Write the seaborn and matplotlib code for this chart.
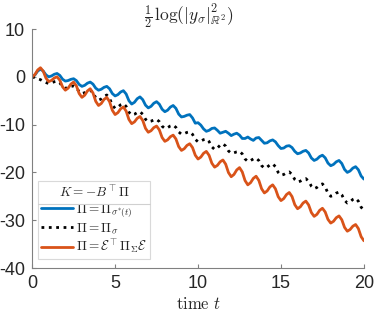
import numpy as np
import matplotlib
matplotlib.use('Agg')
import matplotlib.pyplot as plt
from matplotlib.lines import Line2D
import seaborn as sns

# ============================================================================
# DATA (read off the reference, t sampled every 1/6)
# ============================================================================

t = np.linspace(0, 20, 121)

pi_sigma_star = [
    0.0, 0.4, 1.2, 1.6, 1.2, 0.4,
    0.0, 0.18, 0.53, 0.7, 0.3, -0.5,
    -0.9, -0.78, -0.53, -0.4, -0.8, -1.6,
    -2.0, -1.78, -1.33, -1.1, -1.53, -2.38,
    -2.8, -2.6, -2.2, -2.0, -2.5, -3.5,
    -4.0, -3.73, -3.18, -2.9, -3.6, -5.0,
    -5.7, -5.33, -4.58, -4.2, -4.78, -5.93,
    -6.5, -6.18, -5.53, -5.2, -5.73, -6.78,
    -7.3, -6.98, -6.33, -6.0, -6.6, -7.8,
    -8.4, -8.28, -8.03, -7.9, -8.6, -9.7,
    -9.6, -10.1, -10.9, -11.4, -11.2, -10.8,
    -10.7, -11.2, -11.8, -11.6, -11.4, -11.8,
    -12.3, -12.0, -11.8, -12.2, -12.9, -12.9,
    -12.6, -13.0, -13.3, -12.8, -12.7, -13.3,
    -13.9, -13.8, -13.4, -13.2, -13.6, -14.4,
    -15.0, -14.9, -14.5, -14.4, -14.8, -15.6,
    -16.1, -15.93, -15.58, -15.4, -15.93, -16.98,
    -17.5, -17.23, -16.68, -16.4, -16.95, -18.05,
    -18.6, -18.33, -17.78, -17.5, -18.13, -19.38,
    -20.0, -19.7, -19.1, -18.8, -19.45, -20.75,
    -21.4,
]

pi_sigma = [
    0.0, -0.2, -0.4, -0.6, -0.95, -1.2,
    -1.4, -1.28, -1.03, -0.9, -1.28, -2.03,
    -2.4, -2.28, -2.03, -1.9, -2.3, -3.1,
    -3.5, -3.33, -2.98, -2.8, -3.33, -4.38,
    -4.9, -4.63, -4.08, -3.8, -4.5, -5.9,
    -6.6, -6.35, -5.85, -5.6, -6.2, -7.4,
    -8.0, -7.83, -7.48, -7.3, -7.83, -8.88,
    -9.4, -9.28, -9.03, -8.9, -9.38, -10.33,
    -10.8, -10.63, -10.28, -10.1, -10.58, -11.53,
    -12.0, -11.88, -11.63, -11.5, -12.03, -13.08,
    -13.6, -13.45, -13.15, -13.0, -13.55, -14.65,
    -15.2, -14.9, -14.3, -14.0, -14.5, -15.5,
    -16.0, -15.9, -15.7, -15.6, -16.13, -17.18,
    -17.7, -17.53, -17.18, -17.0, -17.53, -18.58,
    -19.1, -18.88, -18.43, -18.2, -18.8, -20.0,
    -20.6, -20.43, -20.08, -19.9, -20.43, -21.48,
    -22.0, -21.83, -21.48, -21.3, -21.83, -22.88,
    -23.4, -23.15, -22.65, -22.4, -23.05, -24.35,
    -25.0, -24.78, -24.33, -24.1, -24.68, -25.83,
    -26.4, -26.15, -25.65, -25.4, -26.03, -27.28,
    -27.9,
]

pi_epi = [
    0.0, 0.48, 1.43, 1.9, 1.18, -0.28,
    -1.0, -0.75, -0.25, 0.0, -0.7, -2.1,
    -2.8, -2.38, -1.53, -1.1, -1.9, -3.5,
    -4.3, -3.85, -2.95, -2.5, -3.38, -5.13,
    -6.0, -5.58, -4.73, -4.3, -5.2, -7.0,
    -7.9, -7.5, -6.7, -6.3, -7.18, -8.93,
    -9.8, -9.43, -8.68, -8.3, -9.13, -10.78,
    -11.6, -11.28, -10.63, -10.3, -11.1, -12.7,
    -13.5, -13.18, -12.53, -12.2, -13.0, -14.6,
    -15.4, -15.05, -14.35, -14.0, -14.8, -16.4,
    -17.2, -16.8, -16.0, -15.6, -16.43, -18.08,
    -18.9, -18.53, -17.78, -17.4, -18.28, -20.03,
    -20.9, -20.43, -19.48, -19.0, -19.9, -21.7,
    -22.6, -22.15, -21.25, -20.8, -21.68, -23.43,
    -24.3, -23.88, -23.03, -22.6, -23.43, -25.08,
    -25.9, -25.48, -24.63, -24.2, -25.05, -26.75,
    -27.6, -27.2, -26.4, -26.0, -26.8, -28.4,
    -29.2, -28.78, -27.93, -27.5, -28.28, -29.83,
    -30.6, -30.23, -29.48, -29.1, -29.9, -31.5,
    -32.3, -31.95, -31.25, -30.9, -31.75, -33.45,
    -34.3,
]

labels = [
    r'$\Pi = \Pi_{\sigma^{*}(t)}$',
    r'$\Pi = \Pi_{\sigma}$',
    r'$\Pi = \mathcal{E}^{\top}\boldsymbol{\Pi}_{\Sigma}\mathcal{E}$',
]

# ============================================================================
# STYLE
# ============================================================================

sns.set_style('ticks')
plt.rcParams['font.family'] = ['Liberation Sans', 'DejaVu Sans']
plt.rcParams['mathtext.fontset'] = 'cm'
plt.rcParams['axes.unicode_minus'] = False
plt.rcParams['axes.edgecolor'] = '#808080'
plt.rcParams['xtick.color'] = '#808080'
plt.rcParams['ytick.color'] = '#808080'
plt.rcParams['xtick.labelcolor'] = '#262626'
plt.rcParams['ytick.labelcolor'] = '#262626'

fig = plt.figure(figsize=(3.74, 3.12), dpi=100)
ax = fig.add_axes([0.086, 0.141, 0.887, 0.766])

# ============================================================================
# PLOT
# ============================================================================

sns.lineplot(x=t, y=pi_sigma_star, ax=ax, color='#0072BD', linewidth=2.0,
             label=labels[0])
sns.lineplot(x=t, y=pi_sigma, ax=ax, color='black', linewidth=2.0,
             linestyle=':', label=labels[1])
sns.lineplot(x=t, y=pi_epi, ax=ax, color='#D95319', linewidth=2.0,
             label=labels[2])

ax.set_xlim(0, 20)
ax.set_ylim(-40, 10)
ax.set_xticks([0, 5, 10, 15, 20])
ax.set_yticks([-40, -30, -20, -10, 0, 10])
ax.tick_params(direction='in', length=3, width=0.8, labelsize=13, pad=5)
sns.despine(ax=ax)

# title placed by hand so the fraction stays inside the canvas
fig.text(0.505, 1 - 21 / 312,
         r'$\frac{1}{2}\,\log(|y_{\sigma}|^{2}_{\mathbb{R}^{2}})$',
         fontsize=12.5, ha='center', va='baseline')
ax.set_xlabel(r'$\mathrm{time}\ t$', fontsize=12, labelpad=3)

leg = ax.legend(
    loc='lower left',
    bbox_to_anchor=(0.018, 0.037),
    title=r'$K = -B^{\top}\Pi$',
    fontsize=9.5,
    title_fontsize=9.5,
    frameon=True,
    fancybox=False,
    edgecolor='#d0d0d0',
    handlelength=2.4,
    handletextpad=0.2,
    borderpad=0.25,
    labelspacing=0.15,
    borderaxespad=0.0,
)
leg.get_frame().set_linewidth(0.8)

# separator line under the legend title, as in the reference
fig.canvas.draw()
lb = leg.get_window_extent()
tb = leg.get_title().get_window_extent()
inv = fig.transFigure.inverted()
x0, y0 = inv.transform((lb.x0, tb.y0 - 3))
x1, _ = inv.transform((lb.x1, tb.y0 - 3))
fig.add_artist(Line2D([x0, x1], [y0, y0], transform=fig.transFigure,
                      color='#d0d0d0', linewidth=0.8))

fig.savefig('out.png', dpi=100)
